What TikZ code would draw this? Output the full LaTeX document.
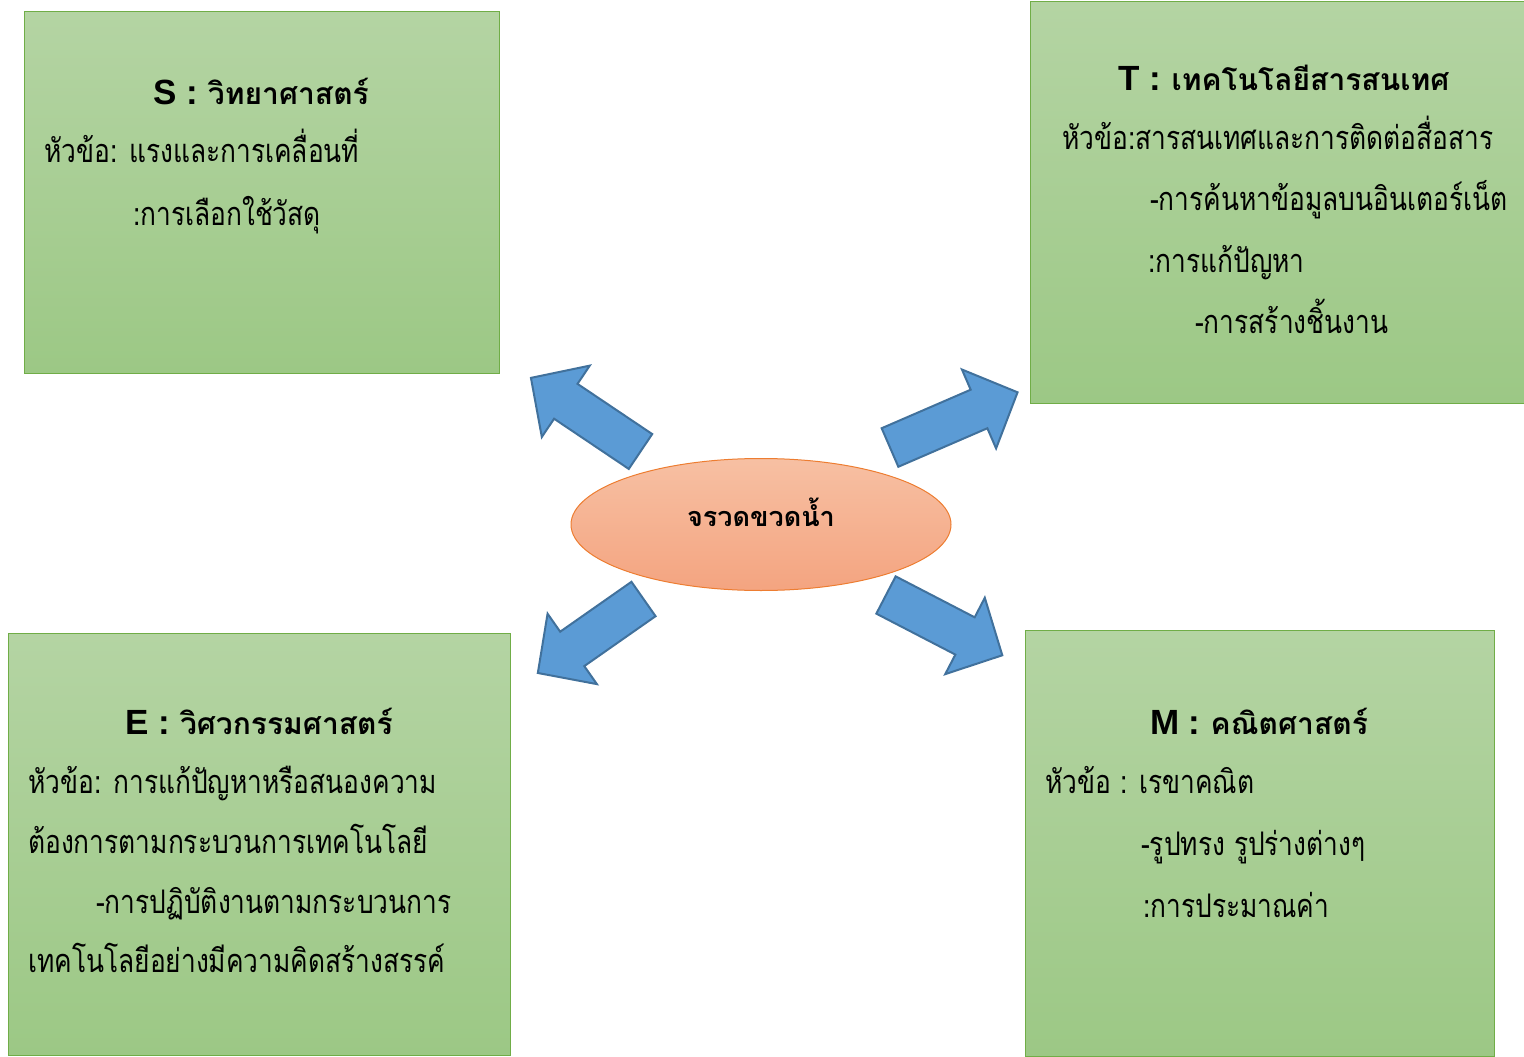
\documentclass[tikz,border=0pt]{standalone}
\usepackage{fontspec}
\newfontfamily\thai[Script=Thai]{Loma}
\newfontfamily\thaibody[Script=Thai, FakeStretch=0.81]{Loma}
\newfontfamily\latinbold{Liberation Sans}
\usetikzlibrary{shapes.geometric}
\definecolor{boxtop}{HTML}{B4D4A3}
\definecolor{boxbot}{HTML}{9CC885}
\definecolor{boxline}{HTML}{70AD47}
\definecolor{elltop}{HTML}{F7C0A3}
\definecolor{ellbot}{HTML}{F4A480}
\definecolor{ellline}{HTML}{ED7D31}
\definecolor{arrfill}{HTML}{5B9BD5}
\definecolor{arrline}{HTML}{41719C}
\tikzset{
  topicbox/.style={rectangle, draw=boxline, line width=1pt, top color=boxtop, bottom color=boxbot, inner sep=0pt},
  body/.style={anchor=base west, inner sep=0pt, font=\thaibody\fontsize{32.5}{36}\selectfont, text=black},
  title/.style={anchor=base, inner sep=0pt, font=\thai\bfseries\fontsize{30}{36}\selectfont, text=black},
  blockarrow/.style={fill=arrfill, draw=arrline, line width=2pt, line join=miter},
}
\newcommand{\lat}[1]{{\latinbold\bfseries\fontsize{35}{36}\selectfont #1}}
\newcommand{\bigarrow}[4]{% tail x, tail y, angle, length
  \draw[blockarrow, shift={(#1,#2)}, rotate=#3]
    (0,21) -- (#4-42,21) -- (#4-42,43) -- (#4,0) -- (#4-42,-43) -- (#4-42,-21) -- (0,-21) -- cycle;}
\begin{document}
\begin{tikzpicture}[x=1pt,y=-1pt]
\useasboundingbox (0,0) rectangle (1524,1057);
% boxes
\node[topicbox, minimum width=475pt, minimum height=361pt] (S) at (261.5,192.5) {};
\node[topicbox, minimum width=494pt, minimum height=401pt] (T) at (1277,202.5) {};
\node[topicbox, minimum width=502pt, minimum height=422pt] (E) at (259,844) {};
\node[topicbox, minimum width=469pt, minimum height=426pt] (M) at (1259.5,843) {};
% centre
\node[ellipse, draw=ellline, line width=1pt, top color=elltop, bottom color=ellbot,
      minimum width=380pt, minimum height=132pt, inner sep=0pt] (C) at (761,524.5) {};
\node[title, font=\thai\bfseries\fontsize{27}{32}\selectfont] (Ct) at (761,526) {จรวดขวดน้ำ};
% arrows
\bigarrow{640.5}{451.5}{146.1}{132}
\bigarrow{890}{447.5}{23.4}{139}
\bigarrow{643.5}{599}{215}{129}
\bigarrow{886}{595}{-27.4}{131}
% S
\node[title] (S0) at (261,104) {\lat{S :} วิทยาศาสตร์};
\node[body] (S1) at (44,162) {หัวข้อ: แรงและการเคลื่อนที่};
\node[body] (S2) at (133,225) {:การเลือกใช้วัสดุ};
% T
\node[title] (T0) at (1284,91) {\lat{T :} เทคโนโลยีสารสนเทศ};
\node[body] (T1) at (1062,149) {หัวข้อ:สารสนเทศและการติดต่อสื่อสาร};
\node[body] (T2) at (1150,210) {-การค้นหาข้อมูลบนอินเตอร์เน็ต};
\node[body] (T3) at (1148,272) {:การแก้ปัญหา};
\node[body] (T4) at (1195,333) {-การสร้างชิ้นงาน};
% E
\node[title] (E0) at (259,734) {\lat{E :} วิศวกรรมศาสตร์};
\node[body] (E1) at (28,793) {หัวข้อ: การแก้ปัญหาหรือสนองความ};
\node[body] (E2) at (28,853) {ต้องการตามกระบวนการเทคโนโลยี};
\node[body] (E3) at (96,913) {-การปฏิบัติงานตามกระบวนการ};
\node[body] (E4) at (28,972) {เทคโนโลยีอย่างมีความคิดสร้างสรรค์};
% M
\node[title] (M0) at (1259,734) {\lat{M :} คณิตศาสตร์};
\node[body] (M1) at (1045,793) {หัวข้อ : เรขาคณิต};
\node[body] (M2) at (1141,855) {-รูปทรง รูปร่างต่างๆ};
\node[body] (M3) at (1143,917) {:การประมาณค่า};
\end{tikzpicture}
\end{document}
